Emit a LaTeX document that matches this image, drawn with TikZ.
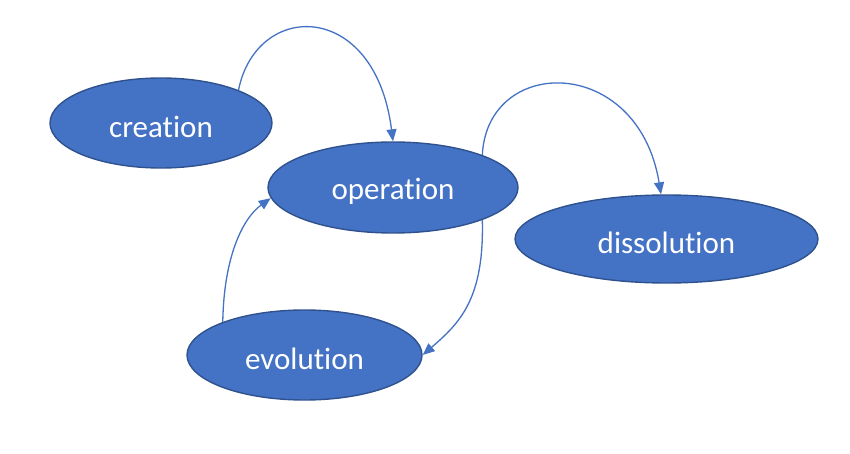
\documentclass[tikz,border=0pt]{standalone}
\usepackage{fontspec}
\setmainfont[Ligatures=CommonOff]{Carlito}
\usetikzlibrary{shapes.geometric,arrows.meta}
\definecolor{officeblue}{HTML}{4472C4}
\definecolor{officeedge}{HTML}{2F528F}
\newcommand{\stagetext}[1]{\raisebox{-4pt}[\height][\depth]{#1}}
\tikzset{
  stage/.style={ellipse, draw=officeedge, line width=1.4pt, fill=officeblue,
    text=white, inner sep=0pt, font=\fontsize{31}{37}\selectfont},
  flow/.style={draw=officeblue, line width=1.3pt,
    -{Triangle[length=12pt,width=10pt]}}
}
\begin{document}
\begin{tikzpicture}[x=1pt,y=-1pt]
\useasboundingbox (0,0) rectangle (850,454);
\node[stage, minimum width=222pt, minimum height=90pt] (creation) at (161,123) {\stagetext{creation}};
\node[stage, minimum width=250pt, minimum height=91pt] (operation) at (393,187.5) {\stagetext{operation}};
\node[stage, minimum width=303pt, minimum height=88pt] (dissolution) at (666.5,239) {\stagetext{dissolution}};
\node[stage, minimum width=235pt, minimum height=90pt] (evolution) at (304.5,355) {\stagetext{evolution}};
\draw[flow] (creation.23.5) .. controls +(18,-90) and +(-18,-142) .. (operation.north);
\draw[flow] (operation.20) .. controls +(5,-100) and +(-23,-140) .. (dissolution.97);
\draw[flow] (operation.-20) .. controls +(2,79) and +(37,-32) .. (evolution.0);
\draw[flow] (evolution.158) .. controls +(1,-65) and +(-28,20) .. (operation.185);
\end{tikzpicture}
\end{document}
